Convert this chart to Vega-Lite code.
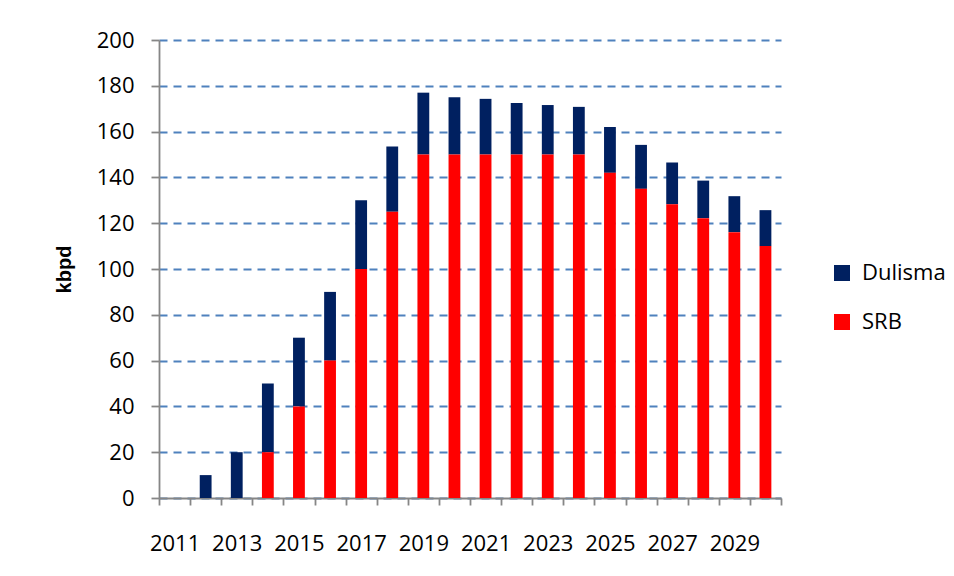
{
  "$schema": "https://vega.github.io/schema/vega-lite/v6.json",
  "width": 622,
  "height": 458,
  "autosize": {"type": "none"},
  "padding": {"left": 159, "top": 40, "right": 173, "bottom": 78},
  "background": "white",
  "config": {
    "font": "Open Sans",
    "view": {"stroke": null},
    "axis": {"labelFont": "Open Sans", "labelFontSize": 22, "labelColor": "black", "domainColor": "#868686", "tickColor": "#868686", "domainWidth": 1.8, "tickWidth": 1.8}
  },
  "data": {
    "values": [
      {"year": "2012", "series": "Dulisma", "value": 10},
      {"year": "2013", "series": "Dulisma", "value": 20},
      {"year": "2014", "series": "Dulisma", "value": 30},
      {"year": "2014", "series": "SRB", "value": 20},
      {"year": "2015", "series": "Dulisma", "value": 30},
      {"year": "2015", "series": "SRB", "value": 40},
      {"year": "2016", "series": "Dulisma", "value": 30},
      {"year": "2016", "series": "SRB", "value": 60},
      {"year": "2017", "series": "Dulisma", "value": 30},
      {"year": "2017", "series": "SRB", "value": 100},
      {"year": "2018", "series": "Dulisma", "value": 28.5},
      {"year": "2018", "series": "SRB", "value": 125},
      {"year": "2019", "series": "Dulisma", "value": 27},
      {"year": "2019", "series": "SRB", "value": 150},
      {"year": "2020", "series": "Dulisma", "value": 25},
      {"year": "2020", "series": "SRB", "value": 150},
      {"year": "2021", "series": "Dulisma", "value": 24.3},
      {"year": "2021", "series": "SRB", "value": 150},
      {"year": "2022", "series": "Dulisma", "value": 22.5},
      {"year": "2022", "series": "SRB", "value": 150},
      {"year": "2023", "series": "Dulisma", "value": 21.6},
      {"year": "2023", "series": "SRB", "value": 150},
      {"year": "2024", "series": "Dulisma", "value": 20.8},
      {"year": "2024", "series": "SRB", "value": 150},
      {"year": "2025", "series": "Dulisma", "value": 20},
      {"year": "2025", "series": "SRB", "value": 142},
      {"year": "2026", "series": "Dulisma", "value": 19.2},
      {"year": "2026", "series": "SRB", "value": 135},
      {"year": "2027", "series": "Dulisma", "value": 18.2},
      {"year": "2027", "series": "SRB", "value": 128.3},
      {"year": "2028", "series": "Dulisma", "value": 16.4},
      {"year": "2028", "series": "SRB", "value": 122.2},
      {"year": "2029", "series": "Dulisma", "value": 15.7},
      {"year": "2029", "series": "SRB", "value": 116.1},
      {"year": "2030", "series": "Dulisma", "value": 15.7},
      {"year": "2030", "series": "SRB", "value": 110}
    ]
  },
  "mark": {"type": "bar", "width": {"band": 0.38}},
  "encoding": {
    "x": {
      "field": "year",
      "type": "nominal",
      "scale": {
        "domain": ["2011", "2012", "2013", "2014", "2015", "2016", "2017", "2018", "2019", "2020", "2021", "2022", "2023", "2024", "2025", "2026", "2027", "2028", "2029", "2030"],
        "paddingInner": 0,
        "paddingOuter": 0
      },
      "axis": {
        "title": null,
        "labelAngle": 0,
        "labelExpr": "toNumber(datum.value) % 2 == 1 ? datum.value : ''",
        "labelOverlap": false,
        "tickBand": "extent",
        "tickSize": 7,
        "labelPadding": 28
      }
    },
    "y": {
      "field": "value",
      "type": "quantitative",
      "stack": "zero",
      "scale": {"domain": [0, 200], "nice": false},
      "axis": {
        "title": "kbpd",
        "titleFont": "Liberation Sans",
        "titleFontSize": 20,
        "titleFontWeight": "bold",
        "titleColor": "black",
        "titlePadding": 22,
        "values": [0, 20, 40, 60, 80, 100, 120, 140, 160, 180, 200],
        "tickSize": 8,
        "labelPadding": 17,
        "grid": true,
        "gridColor": "#4F81BD",
        "gridWidth": 2,
        "gridDash": [8, 6]
      }
    },
    "color": {
      "field": "series",
      "type": "nominal",
      "scale": {"domain": ["Dulisma", "SRB"], "range": ["#002060", "#FF0000"]},
      "legend": {
        "title": null,
        "orient": "none",
        "legendX": 672,
        "legendY": 222,
        "symbolType": "square",
        "symbolSize": 256,
        "symbolStrokeWidth": 0,
        "labelFont": "Open Sans",
        "labelFontSize": 22,
        "labelColor": "black",
        "labelOffset": 9,
        "rowPadding": 27
      }
    },
    "order": {"field": "series", "sort": "descending"}
  }
}
